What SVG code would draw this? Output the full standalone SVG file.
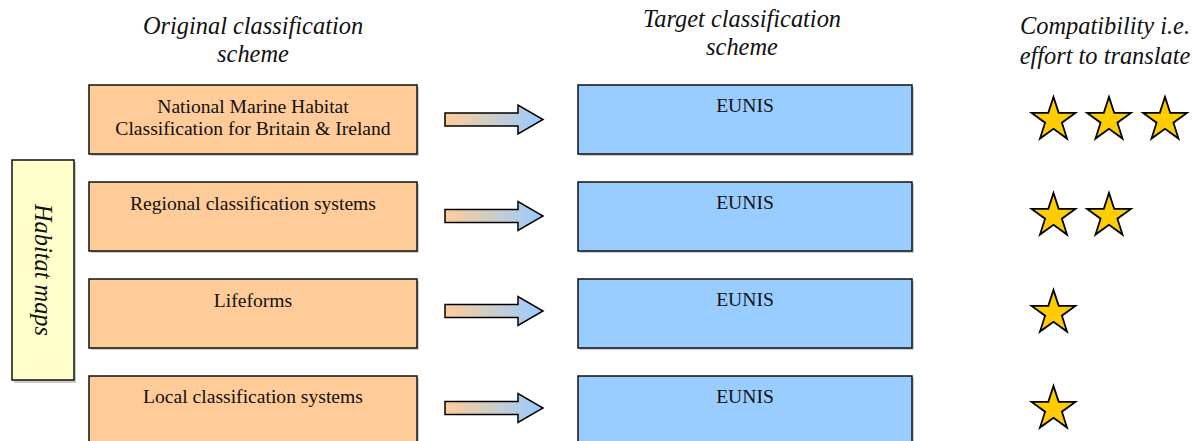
<svg xmlns="http://www.w3.org/2000/svg" width="1197" height="441" viewBox="0 0 1197 441">
<defs>
<linearGradient id="ag" x1="0" y1="0" x2="1" y2="0">
<stop offset="0" stop-color="#FFCC99"/>
<stop offset="1" stop-color="#99CCFF"/>
</linearGradient>
<polygon id="star" points="0,-23 5.2,-7.1 21.9,-7.1 8.4,2.7 13.5,18.6 0,8.8 -13.5,18.6 -8.4,2.7 -21.9,-7.1 -5.2,-7.1"/>
<path id="arrow" d="M0,-6.5 H73 V-14.5 L98,0 L73,14.5 V6.5 H0 Z"/>
</defs>
<style>
.hdr{font-family:"Liberation Serif",serif;font-style:italic;font-size:24.4px;fill:#111;text-anchor:middle}
.lbl{font-family:"Liberation Serif",serif;font-size:19.6px;fill:#111;text-anchor:middle}
.org{fill:#FFCC99;stroke:#111;stroke-width:1.5}
.blu{fill:#99CCFF;stroke:#111;stroke-width:1.5}
.shd{fill:#999;opacity:0.5}
.st{fill:#FFCC00;stroke:#000;stroke-width:1.8;stroke-linejoin:miter}
.ar{fill:url(#ag);stroke:#000;stroke-width:1.5}
</style>
<rect width="1197" height="441" fill="#fff"/>
<g id="headers">
<text class="hdr" x="253" y="34">Original classification</text>
<text class="hdr" x="253" y="62">scheme</text>
<text class="hdr" x="742" y="27">Target classification</text>
<text class="hdr" x="742" y="55">scheme</text>
<text class="hdr" x="1105" y="34">Compatibility i.e.</text>
<text class="hdr" x="1105" y="64">effort to translate</text>
</g>
<g id="habitat-maps">
<rect class="shd" x="14" y="162" width="62" height="221"/>
<rect x="12" y="160" width="62" height="220" fill="#FFFFCC" stroke="#111" stroke-width="1.5"/>
<text class="hdr" transform="translate(35,270) rotate(90)" x="0" y="0">Habitat maps</text>
</g>
<g id="orig1">
<rect class="shd" x="91" y="87" width="328" height="69"/>
<rect class="org" x="89" y="85" width="328" height="69"/>
<text class="lbl" x="253" y="113">National Marine Habitat</text>
<text class="lbl" x="253" y="135">Classification for Britain &amp; Ireland</text>
</g>
<g id="orig2">
<rect class="shd" x="91" y="184" width="328" height="69"/>
<rect class="org" x="89" y="182" width="328" height="69"/>
<text class="lbl" x="253" y="210">Regional classification systems</text>
</g>
<g id="orig3">
<rect class="shd" x="91" y="281" width="328" height="69"/>
<rect class="org" x="89" y="279" width="328" height="69"/>
<text class="lbl" x="253" y="307">Lifeforms</text>
</g>
<g id="orig4">
<rect class="shd" x="91" y="378" width="328" height="69"/>
<rect class="org" x="89" y="376" width="328" height="69"/>
<text class="lbl" x="253" y="403">Local classification systems</text>
</g>
<g id="target1">
<rect class="shd" x="580" y="87" width="334" height="69"/>
<rect class="blu" x="578" y="85" width="334" height="69"/>
<text class="lbl" x="745" y="112">EUNIS</text>
</g>
<g id="target2">
<rect class="shd" x="580" y="184" width="334" height="69"/>
<rect class="blu" x="578" y="182" width="334" height="69"/>
<text class="lbl" x="745" y="209">EUNIS</text>
</g>
<g id="target3">
<rect class="shd" x="580" y="281" width="334" height="69"/>
<rect class="blu" x="578" y="279" width="334" height="69"/>
<text class="lbl" x="745" y="306">EUNIS</text>
</g>
<g id="target4">
<rect class="shd" x="580" y="378" width="334" height="69"/>
<rect class="blu" x="578" y="376" width="334" height="69"/>
<text class="lbl" x="745" y="403">EUNIS</text>
</g>
<g id="connectors">
<use href="#arrow" class="ar" transform="translate(445,119.5)"/>
<use href="#arrow" class="ar" transform="translate(445,216)"/>
<use href="#arrow" class="ar" transform="translate(445,311)"/>
<use href="#arrow" class="ar" transform="translate(445,408)"/>
</g>
<g id="stars">
<use href="#star" class="st" transform="translate(1053.5,120)"/>
<use href="#star" class="st" transform="translate(1109,120)"/>
<use href="#star" class="st" transform="translate(1165,120)"/>
<use href="#star" class="st" transform="translate(1053.5,216)"/>
<use href="#star" class="st" transform="translate(1109,216)"/>
<use href="#star" class="st" transform="translate(1053.5,313)"/>
<use href="#star" class="st" transform="translate(1053.5,409)"/>
</g>
</svg>
